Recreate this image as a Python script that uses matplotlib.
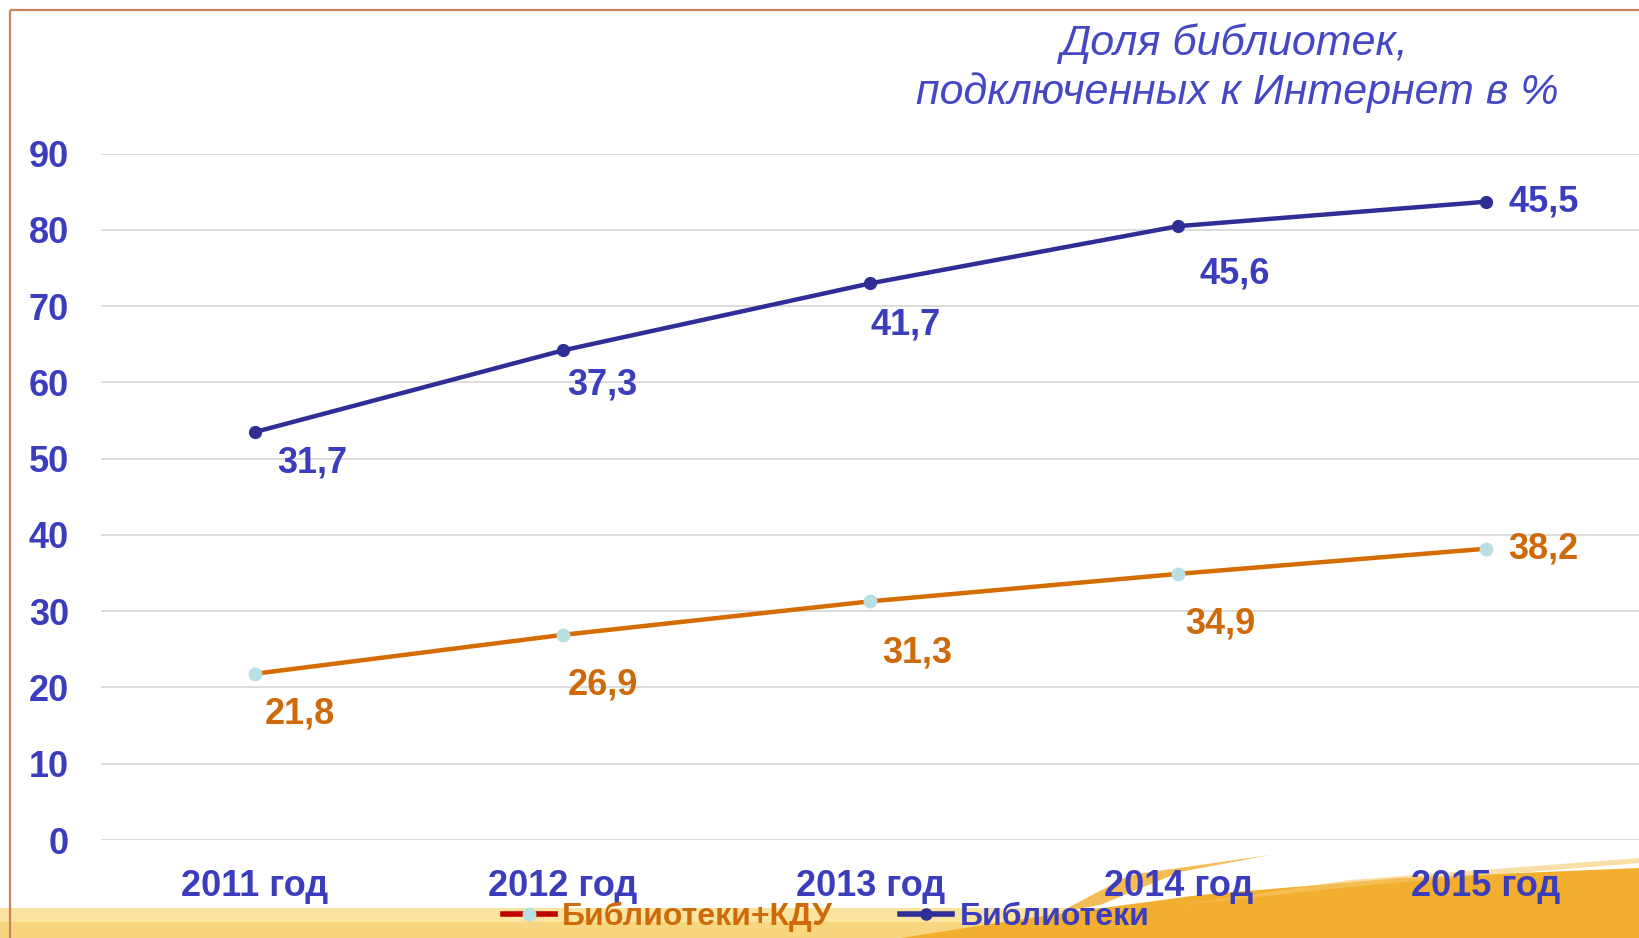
import matplotlib
matplotlib.use("Agg")
import matplotlib.pyplot as plt
from matplotlib.lines import Line2D
from matplotlib.patches import Polygon, Rectangle
from matplotlib import font_manager
import numpy as np

# ---- data ----
years = ["2011 год", "2012 год", "2013 год", "2014 год", "2015 год"]
kdu = [21.8, 26.9, 31.3, 34.9, 38.2]          # Библиотеки+КДУ
libs = [31.7, 37.3, 41.7, 45.6, 45.5]          # Библиотеки (stacked on top)
yticks = [0, 10, 20, 30, 40, 50, 60, 70, 80, 90]
title1 = "Доля библиотек,"
title2 = "подключенных к Интернет в %"
legend_labels = ["Библиотеки+КДУ", "Библиотеки"]

# ---- styles ----
BLUE_LINE = "#2e2e96"
BLUE_TXT = "#3b3dbd"
ORANGE_LINE = "#d66b00"
ORANGE_TXT = "#cf6a0a"
CYAN = "#b8e0e2"
MAIN = "Liberation Sans"

W, H = 1640, 938
fig = plt.figure(figsize=(W / 100, H / 100), dpi=100)
fig.patch.set_facecolor("white")

# background decoration axes (pixel coords, y down)
bg = fig.add_axes([0, 0, 1, 1], zorder=0)
bg.set_xlim(0, W)
bg.set_ylim(H, 0)
bg.axis("off")
bg.add_patch(Rectangle((0, 908), W, 30, color="#fbe3a0", lw=0))
bg.add_patch(Rectangle((0, 922), W, 16, color="#f8d57f", lw=0))
bg.add_patch(Polygon([(900, 938), (1050, 915), (1200, 895), (1400, 878), (1640, 868), (1640, 938)],
                     closed=True, color="#f2ae2e", lw=0))
bg.add_patch(Polygon([(1060, 912), (1130, 875), (1270, 855), (1180, 872), (1100, 905)],
                     closed=True, color="#f3b543", lw=0, alpha=0.9))
bg.add_patch(Polygon([(1180, 905), (1350, 880), (1640, 858), (1640, 863), (1380, 884)],
                     closed=True, color="#f5c86a", lw=0, alpha=0.6))
# frame lines
bg.plot([10, W], [10, 10], color="#c8845c", lw=1.6, solid_capstyle="butt")
bg.plot([10, 10], [10, H], color="#c8845c", lw=1.6, solid_capstyle="butt")

# ---- main axes ----
left = 101 / W
bottom = 1 - 840 / H
top = 1 - 153.7 / H
ax = fig.add_axes([left, bottom, 1 - left, top - bottom], zorder=2)
ax.set_facecolor("none")
x = np.arange(len(years))
top_vals = np.array(kdu) + np.array(libs)

ax.set_xlim(-0.5, 4.5)
ax.set_ylim(0, 90)
ax.set_yticks(yticks)
ax.set_xticks(x)
ax.set_xticklabels(years)
for s in ax.spines.values():
    s.set_visible(False)
ax.grid(axis="y", color="#d9d9d9", lw=1.3)
ax.set_axisbelow(True)
ax.tick_params(axis="both", length=0, labelsize=26, labelcolor=BLUE_TXT)
ax.tick_params(axis="y", pad=23)
ax.tick_params(axis="x", pad=21)
for lab in ax.get_xticklabels() + ax.get_yticklabels():
    lab.set_fontfamily(MAIN)
    lab.set_fontweight("bold")

ax.plot(x, kdu, color=ORANGE_LINE, lw=3.2, marker="o", ms=9, mfc=CYAN, mec=CYAN, zorder=3,
        clip_on=False)
ax.plot(x, top_vals, color=BLUE_LINE, lw=3.2, marker="o", ms=8.5, mfc=BLUE_LINE, mec=BLUE_LINE,
        zorder=3, clip_on=False)

# data label offsets (pixels, text centre relative to point)
blue_off = [(57, -31), (40, -35), (35, -42), (56, -48), (22, 0)]
orange_off = [(45, -40), (40, -50), (47, -52), (42, -50), (22, 0)]
for i in range(len(years)):
    ha = "left" if i == len(years) - 1 else "center"
    ax.annotate(f"{libs[i]:.1f}".replace(".", ","), (x[i], top_vals[i]),
                xytext=blue_off[i], textcoords="offset pixels", ha=ha, va="center",
                fontsize=26, fontweight="bold", family=MAIN, color=BLUE_TXT, annotation_clip=False)
    ax.annotate(f"{kdu[i]:.1f}".replace(".", ","), (x[i], kdu[i]),
                xytext=orange_off[i], textcoords="offset pixels", ha=ha, va="center",
                fontsize=26, fontweight="bold", family=MAIN, color=ORANGE_TXT, annotation_clip=False)

# title
fig.text(1235 / W, 1 - 55 / H, title1, ha="center", va="baseline", fontsize=31,
         style="italic", family=MAIN, color="#4547c4")
fig.text(1237 / W, 1 - 104 / H, title2, ha="center", va="baseline", fontsize=31,
         style="italic", family=MAIN, color="#4547c4")

# legend
h1 = Line2D([], [], color="#c00000", lw=4, marker="o", ms=9, mfc=CYAN, mec=CYAN)
h2 = Line2D([], [], color=BLUE_LINE, lw=4, marker="o", ms=8, mfc=BLUE_LINE, mec=BLUE_LINE)
leg = fig.legend([h1, h2], legend_labels, loc="center", bbox_to_anchor=(826 / W, 1 - 917 / H),
                 ncol=2, frameon=False, handlelength=1.63, handletextpad=0.23, columnspacing=2.1,
                 prop={"family": MAIN, "weight": "bold", "size": 23})
leg.set_zorder(5)
for t, c in zip(leg.get_texts(), [ORANGE_TXT, BLUE_TXT]):
    t.set_color(c)

fig.savefig("out.png", dpi=100)
